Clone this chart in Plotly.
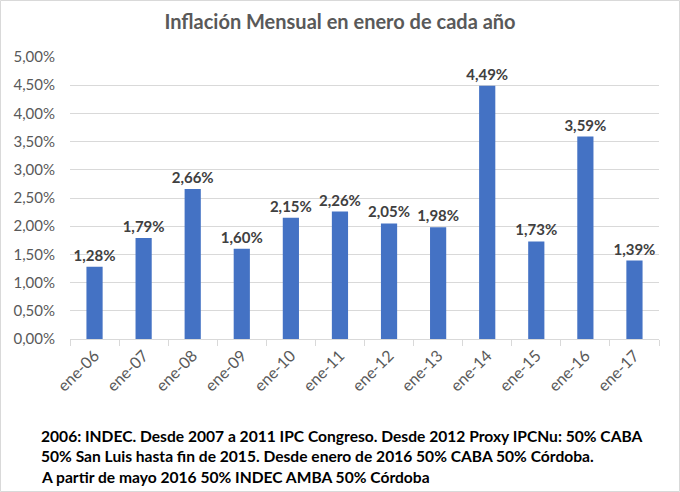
import plotly.graph_objects as go

categories = ["ene-06", "ene-07", "ene-08", "ene-09", "ene-10", "ene-11",
              "ene-12", "ene-13", "ene-14", "ene-15", "ene-16", "ene-17"]
inflacion = [1.28, 1.79, 2.66, 1.60, 2.15, 2.26, 2.05, 1.98, 4.49, 1.73, 3.59, 1.39]
y_ticks = [0, 0.5, 1.0, 1.5, 2.0, 2.5, 3.0, 3.5, 4.0, 4.5, 5.0]
y_tick_labels = [f"{v:.2f}%".replace(".", ",") for v in y_ticks]
title_text = "Inflación Mensual en enero de cada año"
note_lines = [
    "2006: INDEC. Desde 2007 a 2011 IPC Congreso. Desde 2012 Proxy IPCNu: 50% CABA",
    "50% San Luis hasta fin de 2015. Desde enero de 2016 50% CABA 50% Córdoba.",
    "A partir de mayo 2016 50% INDEC AMBA 50% Córdoba",
]

FONT = "Lato, 'Open Sans', sans-serif"
W, H = 680, 492
ml, mr, mt, mb = 70, 21, 57, 153
pw, ph = W - ml - mr, H - mt - mb

fig = go.Figure(go.Bar(
    x=categories, y=inflacion,
    marker=dict(color="#4472C4", line=dict(width=0)),
    texttemplate="<b>%{y:.2f}%</b>", textposition="outside",
    constraintext="none",
    textfont=dict(family=FONT, size=15, color="#404040"),
    cliponaxis=False,
))

fig.update_layout(
    width=W, height=H,
    margin=dict(l=ml, r=mr, t=mt, b=mb),
    paper_bgcolor="white", plot_bgcolor="white",
    separators=",.",
    bargap=0.67,
    showlegend=False,
    title=dict(text="<b>" + title_text + "</b>", x=0.5, xanchor="center",
               y=1 - 22 / H, yanchor="middle",
               font=dict(family=FONT, size=20, color="#595959")),
    xaxis=dict(
        type="category", tickangle=-45,
        tickfont=dict(family=FONT, size=16, color="#595959"),
        showline=True, linecolor="#D9D9D9", linewidth=1,
        ticks="outside", tickson="boundaries", ticklen=6, tickcolor="#D9D9D9",
        showgrid=False,
    ),
    yaxis=dict(
        range=[0, 5.0], tickvals=y_ticks, ticktext=y_tick_labels,
        tickfont=dict(family=FONT, size=15, color="#595959"),
        showgrid=True, gridcolor="#D9D9D9", gridwidth=1,
        zeroline=False, showline=False, ticks="",
        ticklabelstandoff=14,
    ),
)

# note text below chart
for i, line in enumerate(note_lines):
    ypix = 435.5 + i * 20.5
    fig.add_annotation(
        text="<b>" + line + "</b>", xref="paper", yref="paper",
        x=(39 - ml) / pw, y=(H - mb - ypix) / ph,
        xanchor="left", yanchor="middle", showarrow=False,
        font=dict(family=FONT, size=15.6, color="#000000"),
    )

# outer light border
fig.add_shape(type="rect", xref="paper", yref="paper",
              x0=(0.5 - ml) / pw, x1=(W - 0.5 - ml) / pw,
              y0=(H - mb - (H - 0.5)) / ph, y1=(H - mb - 0.5) / ph,
              line=dict(color="#D9D9D9", width=1), fillcolor="rgba(0,0,0,0)",
              layer="below")

fig.write_html("out.html", config={"displayModeBar": False},
               post_script="document.body.style.margin='0';document.body.style.overflow='hidden';")
